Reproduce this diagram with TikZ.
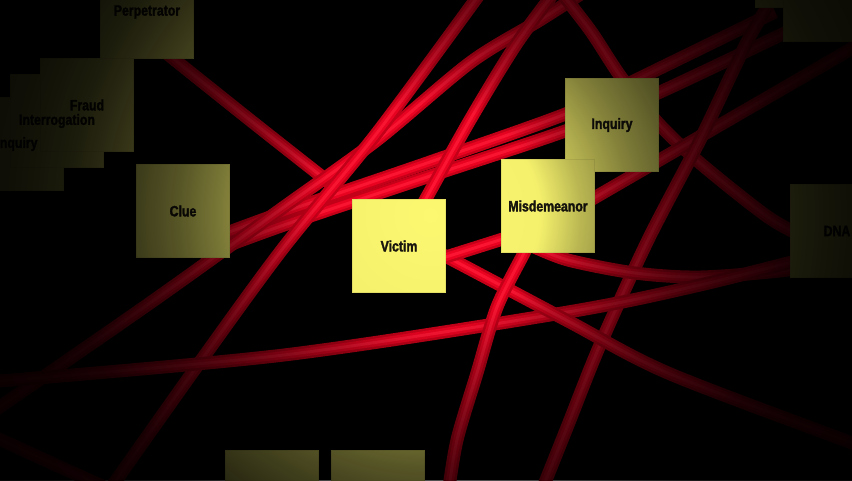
\documentclass[tikz,border=0pt]{standalone}
\usepackage{fontspec}
\newfontfamily\cardfont[FakeStretch=0.82,BoldFeatures={FakeBold=2}]{Liberation Sans}
\definecolor{cardyellow}{RGB}{252,248,112}
\definecolor{cardink}{RGB}{25,22,15}
\definecolor{tubeedge}{RGB}{200,0,25}
\definecolor{tubemid}{RGB}{238,4,34}
\definecolor{tubecore}{RGB}{255,22,52}
\pgfdeclarelayer{tubes}
\pgfdeclarelayer{shade}
\pgfsetlayers{tubes,main,shade}
\pgfdeclareradialshading{spotshade}{\pgfpointorigin}{color(0bp)=(pgftransparent!100); color(5.5bp)=(pgftransparent!97); color(7.5bp)=(pgftransparent!74); color(10bp)=(pgftransparent!52); color(12.5bp)=(pgftransparent!35); color(14.5bp)=(pgftransparent!25); color(16.5bp)=(pgftransparent!17); color(18bp)=(pgftransparent!11.5); color(19.5bp)=(pgftransparent!8.5); color(21bp)=(pgftransparent!6.5); color(25bp)=(pgftransparent!4); color(50bp)=(pgftransparent!3)}
\pgfdeclarefading{spot}{\pgfuseshading{spotshade}}

\begin{document}
\begin{tikzpicture}[x=1pt,y=-1pt,
  card/.style={fill=cardyellow,draw=cardyellow!92!black,line width=0.6pt,minimum size=93pt,inner sep=0pt},
  cardtext/.style={font=\cardfont\bfseries\fontsize{15}{15}\selectfont,text=cardink},
  tube/.style={line width=13pt,draw=tubeedge,postaction={draw=tubemid,line width=8pt},postaction={draw=tubecore,line width=3pt}}]
  \useasboundingbox (0,0) rectangle (852,480);
  \node[card] (perp) at (147,12) {};
  \node[card] (inqleft) at (17,144) {};
  \node[card] (interrog) at (57,121) {};
  \node[card] (fraud) at (87,105) {};
  \node[card] (clue) at (183,211) {};
  \node[card] (inquiry) at (612,125) {};
  \node[card] (misd) at (548,206) {};
  \node[card] (victim) at (399,246) {};
  \node[card] (dna) at (837,231) {};
  \node[card] (blankA) at (272,497) {};
  \node[card] (blankB) at (378,497) {};
  \node[card] (blankC) at (802,-39) {};
  \node[card] (blankD) at (830,-5) {};
  \foreach \n/\t in {perp/Perpetrator,inqleft/Inquiry,interrog/Interrogation,fraud/Fraud,clue/Clue,inquiry/Inquiry,misd/Misdemeanor,victim/Victim,dna/DNA}
    \node[cardtext] (\n-t) at (\n) {\t};
  \begin{pgfonlayer}{tubes}
    \fill[black] (0,0) rectangle (852,480);
    \draw[tube] plot[smooth] coordinates {(160,48) (250,120) (330,183) (372,215)};
    \draw[tube] plot[smooth] coordinates {(200,243) (284,212) (430,162) (568,113) (640,78) (775,12)};
    \draw[tube] plot[smooth] coordinates {(200,256) (284,225) (430,176) (568,130) (658,93) (795,28)};
    \draw[tube] plot[smooth] coordinates {(590,-12) (540,20) (471,62) (377,140) (284,207) (150,303) (-12,415)};
    \draw[tube] plot[smooth] coordinates {(484,-12) (377,133) (284,247) (200,362) (108,492)};
    \draw[tube] plot[smooth] coordinates {(417,215) (470,120) (517,43) (560,-15)};
    \draw[tube] plot[smooth] coordinates {(555,-15) (590,30) (621,77) (658,123) (700,163) (768,217) (810,240)};
    \draw[tube] (575,209) -- (870,38);
    \draw[tube] plot[smooth] coordinates {(775,-5) (748,40) (700,140) (648,240) (600,345) (568,425) (540,495)};
    \draw[tube] plot[smooth] coordinates {(530,245) (568,260) (635,273) (701,277) (788,270) (820,262)};
    \draw[tube] plot[smooth] coordinates {(-12,382) (284,355) (568,312) (700,285) (830,252)};
    \draw[tube] plot[smooth] coordinates {(430,250) (447,257) (568,321) (668,373) (852,443) (870,450)};
    \draw[tube] (430,262) -- (525,232);
    \draw[tube] plot[smooth] coordinates {(533,235) (524,253) (497,307) (477,373) (457,440) (448,495)};
    \draw[tube] (-12,434) -- (115,492);
  \end{pgfonlayer}
  \begin{pgfonlayer}{shade}
    \fill[black,path fading=spot] (-70,-285) rectangle (930,715);
  \end{pgfonlayer}
\end{tikzpicture}
\end{document}
